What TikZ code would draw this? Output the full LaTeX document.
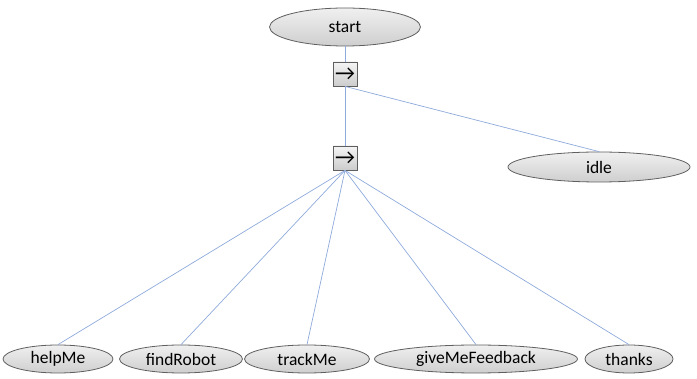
\documentclass[tikz,border=0pt]{standalone}
\usepackage{fontspec}
\setmainfont{Carlito}
\newfontfamily\symfont{Carlito}
\usetikzlibrary{shapes.geometric}
\definecolor{edgeblue}{HTML}{8EAADB}
\definecolor{rimgray}{HTML}{5F5F5F}
\tikzset{
  state/.style={ellipse, draw=rimgray, line width=0.8pt, top color=gray!12, bottom color=gray!38,
    inner sep=0pt, minimum height=#1, font=\fontsize{17.5}{17.5}\selectfont},
  state/.default=30pt,
  seqbox/.style={rectangle, draw=rimgray, line width=0.8pt, top color=gray!8, bottom color=gray!40,
    minimum width=24pt, minimum height=24pt, inner sep=0pt, font=\symfont\fontsize{22}{22}\selectfont},
  link/.style={draw=edgeblue, line width=0.7pt}
}
\begin{document}
\begin{tikzpicture}[x=1pt,y=-1pt]
\useasboundingbox (0,0) rectangle (697,379);
% root and sequence nodes
\node[state=38pt, minimum width=151pt] (start) at (345,27) {start};
\node[seqbox] (seqA) at (345,74) {→};
\node[seqbox] (seqB) at (345,158) {→};
\node[state=30pt, minimum width=182pt] (idle) at (599,167) {idle};
% leaf behaviours
\node[state=28pt, minimum width=110pt] (help) at (58,359) {helpMe};
\node[state=28pt, minimum width=123pt] (find) at (181,359) {findRobot};
\node[state=28pt, minimum width=125pt] (track) at (307,359) {trackMe};
\node[state=28pt, minimum width=203pt] (feedback) at (476,359) {giveMeFeedback};
\node[state=28pt, minimum width=88pt] (thanks) at (629,359) {thanks};
% connectors
\begin{scope}[on background layer/.try]
\path[link] (start) -- (seqA);
\path[link] (seqA) -- (seqB);
\path[link] (seqA.south) -- (idle.north);
\foreach \t in {help,find,track,feedback,thanks}
  \path[link] (seqB.south) -- (\t.north);
\end{scope}
\end{tikzpicture}
\end{document}
